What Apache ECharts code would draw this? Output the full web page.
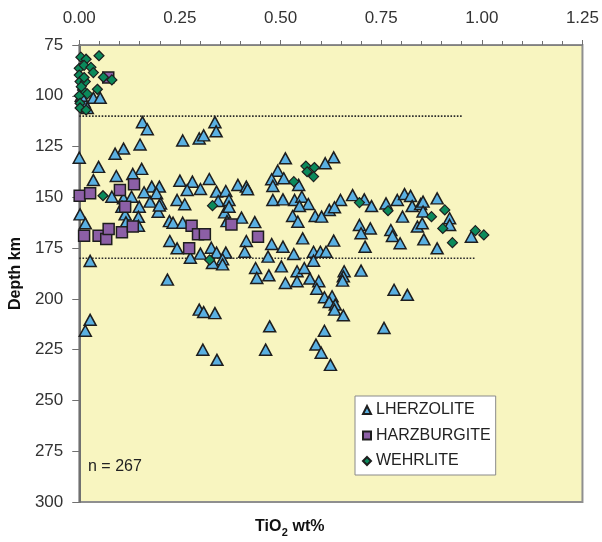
<!DOCTYPE html>
<html>
<head>
<meta charset="utf-8">
<script src="https://cdn.jsdelivr.net/npm/echarts@6/dist/echarts.min.js"></script>
<style>
html,body{margin:0;padding:0;background:#fff;}
#chart{width:602px;height:542px;}
</style>
</head>
<body>
<div id="chart"></div>
<script>
// ---- Data (TiO2 wt%, Depth km) ----
var xTicks = [0, 0.25, 0.5, 0.75, 1.0, 1.25];
var yTicks = [75, 100, 125, 150, 175, 200, 225, 250, 275, 300];

var lherzolite = [
  [0.012,103],[0.035,101],[0.052,101],[0.02,106],[0.005,100],
  [0.157,113],[0.169,116.5],[0.337,113],[0.34,117.5],[0.257,122],[0.298,121],[0.309,119.5],
  [0.151,124],[0.11,126],[0.089,128.5],[0.0,130.5],[0.048,135],[0.155,136],[0.133,138.5],
  [0.092,139.5],[0.035,141.5],[0.25,141.8],[0.281,142.3],[0.323,141],
  [0.18,144.7],[0.199,144.7],[0.301,145.9],[0.341,147.2],[0.364,146.9],[0.394,143.9],[0.415,144.7],
  [0.081,149.7],[0.11,150.5],[0.13,149.7],[0.161,147.5],[0.176,152.1],[0.192,148],[0.202,153],
  [0.243,151.3],[0.262,153.4],[0.268,146.4],[0.345,151.8],[0.372,151.3],[0.002,158.4],[0.015,162.8],
  [0.106,154.6],[0.149,154.6],[0.114,158.4],[0.147,159.6],[0.116,162.3],[0.147,164],[0.196,157.1],
  [0.199,154],[0.361,157.4],[0.372,154.6],[0.367,161.7],[0.403,160],[0.224,161.7],[0.233,162.5],
  [0.257,162.5],[0.225,171.5],[0.243,175.1],[0.328,174.8],[0.301,177.7],[0.341,177.2],[0.364,177.2],
  [0.415,171.5],[0.411,176.8],[0.276,179.7],[0.027,181.3],[0.356,180.5],
  [0.512,130.8],[0.632,130.3],[0.611,133.2],[0.493,136.9],[0.478,141.1],[0.508,140.6],[0.481,144.4],
  [0.545,143.9],[0.418,146],[0.481,151.3],[0.506,151],[0.535,151.3],[0.553,149.7],[0.569,153.3],
  [0.547,154.3],[0.621,156.2],[0.649,151.3],[0.634,154.9],[0.586,159.2],[0.602,159.5],[0.53,159.2],
  [0.543,162],[0.679,148.9],[0.708,151],[0.726,154.3],[0.762,153],[0.79,151.3],[0.808,148.4],
  [0.823,149.3],[0.827,154.3],[0.848,153.3],[0.803,159.5],[0.696,163.6],[0.723,165.3],[0.7,167.7],
  [0.774,166.1],[0.778,169],[0.797,172.6],[0.84,164.4],[0.852,162.8],[0.71,174.3],[0.436,162.2],
  [0.555,170.2],[0.632,171.3],[0.478,173],[0.506,174.3],[0.533,177.9],[0.582,176.8],[0.599,176.8],
  [0.613,176.8],[0.469,179.2],
  [0.889,150.5],[0.854,152.1],[0.854,157],[0.92,160.3],[0.92,163.6],[0.856,170.7],[0.889,175.1],[0.974,169.4],
  [0.219,190.5],[0.331,182.3],[0.356,183],[0.438,184.8],[0.441,189.7],[0.471,188.4],[0.502,184],
  [0.512,192.2],[0.541,186.4],[0.541,191.3],[0.559,184.8],[0.573,190],[0.595,191.3],[0.59,195],
  [0.582,181.2],[0.609,199.2],[0.628,198.7],[0.621,201.5],[0.636,202.8],[0.634,205.3],[0.656,208.1],
  [0.658,186.4],[0.656,188.9],[0.654,191],[0.7,186.1],[0.782,195.5],[0.815,198],[0.298,205.3],
  [0.309,206.5],[0.337,207],[0.027,210.3],[0.015,215.7],[0.473,213.5],[0.609,215.7],[0.757,214.3],
  [0.307,225],[0.342,230],[0.463,225],[0.588,222.5],[0.601,226.5],[0.624,232.5]
];

var harzburgite = [
  [0.072,91],[0.001,149.2],[0.027,148],[0.101,146.4],[0.136,143.6],[0.114,154.6],[0.012,168.9],
  [0.048,168.9],[0.067,170.5],[0.073,165.6],[0.106,167.2],[0.133,164.4],[0.279,164],[0.295,168.2],
  [0.312,168.2],[0.378,163.4],[0.273,175.1],[0.444,169.4]
];

var wehrlite = [
  [0.049,80.3],[0.004,81],[0.017,82],[0.0,86.5],[0.012,85],[0.029,86],[0.035,88.6],[0.06,90.9],
  [0.081,92.2],[0.0,89.8],[0.002,93],[0.015,93],[0.008,97.2],[0.045,96.8],[0.02,99.1],[0.0,100],
  [0.002,103.7],[0.002,106],[0.017,107],[0.012,91],[0.005,95.5],
  [0.059,149.2],[0.331,154.1],[0.324,180.8],[0.563,134.6],[0.584,135.3],[0.566,137.4],[0.582,139.8],
  [0.533,142.3],[0.696,152.6],[0.767,156.6],[0.908,156.2],[0.875,159.5],[0.903,165.3],[0.927,172.3],
  [0.984,166.4],[1.005,168.5]
];

var refLineUpper = [[0, 110], [0.95, 110]];
var refLineLower = [[0, 180], [0.984, 180]];
var sampleCount = 267;

var FONT = 'Liberation Sans, Arial, Helvetica, sans-serif';
var chart = echarts.init(document.getElementById('chart'));
var edge = '#1e1e1e';

chart.setOption({
  backgroundColor: '#ffffff',
  animation: false,
  textStyle: { fontFamily: FONT },
  grid: {
    left: 79, right: 18, top: 45, bottom: 40,
    show: true, backgroundColor: '#F8F5C0', borderColor: '#8f8f8f', borderWidth: 2
  },
  xAxis: {
    type: 'value', position: 'top', min: xTicks[0], max: xTicks[xTicks.length - 1], interval: 0.25,
    axisLine: { show: true, onZero: false, lineStyle: { color: '#808080', width: 1 } },
    axisTick: { show: true, length: 5, lineStyle: { color: '#707070' } },
    minorTick: { show: true, splitNumber: 5, length: 4, lineStyle: { color: '#707070' } },
    splitLine: { show: false },
    axisLabel: { fontSize: 17, color: '#333', margin: 18, fontFamily: FONT,
      formatter: function (v) { return v.toFixed(2); } }
  },
  yAxis: {
    type: 'value', inverse: true, min: yTicks[0], max: yTicks[yTicks.length - 1], interval: 25,
    name: 'Depth km', nameLocation: 'middle', nameGap: 51,
    nameTextStyle: { fontSize: 16, fontWeight: 'bold', color: '#111', fontFamily: FONT },
    axisLine: { show: true, onZero: false, lineStyle: { color: '#707070', width: 2 } },
    axisTick: { show: true, length: 7, lineStyle: { color: '#707070' } },
    splitLine: { show: false },
    axisLabel: { fontSize: 17, color: '#333', margin: 16, fontFamily: FONT }
  },
  legend: {
    orient: 'vertical', left: 355, top: 396,
    backgroundColor: '#ffffff', borderColor: '#8a8a8a', borderWidth: 1,
    padding: [6, 5, 6, 7], itemGap: 9.5, itemWidth: 8, itemHeight: 8,
    textStyle: { fontSize: 16, color: '#222', fontFamily: FONT },
    data: [
      { name: 'LHERZOLITE', icon: 'triangle' },
      { name: 'HARZBURGITE', icon: 'rect' },
      { name: 'WEHRLITE', icon: 'diamond' }
    ]
  },
  series: [
    { type: 'line', data: refLineUpper, symbol: 'none', silent: true, z: 1,
      lineStyle: { color: '#2a2a2a', width: 1.6, type: 'dotted' } },
    { type: 'line', data: refLineLower, symbol: 'none', silent: true, z: 1,
      lineStyle: { color: '#2a2a2a', width: 1.6, type: 'dotted' } },
    { name: 'LHERZOLITE', type: 'scatter', data: lherzolite, symbol: 'triangle', symbolSize: [12, 11], z: 2,
      itemStyle: { color: '#5AB0E2', borderColor: edge, borderWidth: 1.5, opacity: 1 } },
    { name: 'HARZBURGITE', type: 'scatter', data: harzburgite, symbol: 'rect', symbolSize: 11, z: 3,
      itemStyle: { color: '#8C5FA6', borderColor: edge, borderWidth: 1.5, opacity: 1 } },
    { name: 'WEHRLITE', type: 'scatter', data: wehrlite, symbol: 'diamond', symbolSize: 10, z: 4,
      itemStyle: { color: '#0B8A5B', borderColor: edge, borderWidth: 1.2, opacity: 1 } }
  ],
  graphic: [
    { type: 'text', left: 88, top: 459, z: 10,
      style: { text: 'n = ' + sampleCount, font: '16px ' + FONT, fill: '#222' } },
    { type: 'text', z: 10, x: 255, y: 527,
      style: { text: 'TiO', font: 'bold 16px ' + FONT, fill: '#111', align: 'left', verticalAlign: 'middle' } },
    { type: 'text', z: 10, x: 281.7, y: 533,
      style: { text: '2', font: 'bold 11px ' + FONT, fill: '#111', align: 'left', verticalAlign: 'middle' } },
    { type: 'text', z: 10, x: 288, y: 527,
      style: { text: ' wt%', font: 'bold 16px ' + FONT, fill: '#111', align: 'left', verticalAlign: 'middle' } }
  ]
});
</script>
</body>
</html>
